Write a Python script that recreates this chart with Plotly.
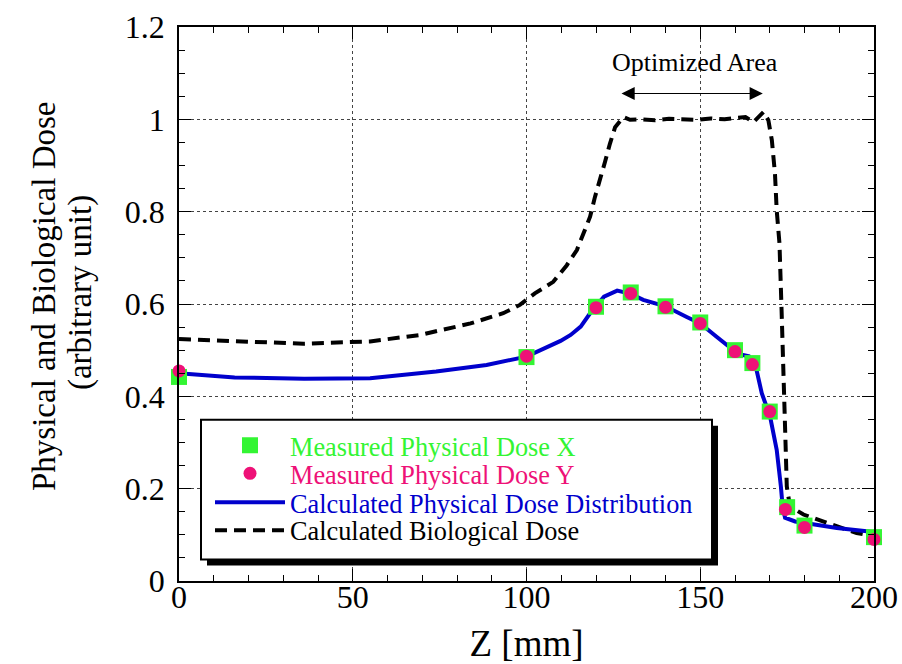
import plotly.graph_objects as go

# ---------------- data ----------------
meas_x_z = [0, 100, 120, 130, 140, 150, 160, 165, 170, 175, 180, 200]
meas_x_d = [0.442, 0.485, 0.594, 0.625, 0.595, 0.560, 0.500, 0.472, 0.367, 0.160, 0.120, 0.095]

meas_y_z = [0, 100, 120, 130, 140, 150, 160, 165, 170, 174.5, 180, 200]
meas_y_d = [0.455, 0.487, 0.592, 0.623, 0.593, 0.558, 0.497, 0.469, 0.367, 0.155, 0.116, 0.090]

phys_z = [0, 16, 36, 55, 74, 88.5, 100, 107.7, 109.8, 112.7, 115.6, 118.3, 122.3, 126.1,
          130, 133.6, 140, 146.1, 150, 154.7, 159.5, 162, 164, 166.2, 167.7, 170.1, 172,
          173.2, 173.7, 174.4, 177.3, 179.7, 189.3, 197.9, 200]
phys_d = [0.450, 0.441, 0.438, 0.439, 0.454, 0.468, 0.486, 0.511, 0.520, 0.533, 0.551, 0.580,
          0.616, 0.629, 0.622, 0.609, 0.595, 0.572, 0.558, 0.529, 0.500, 0.490, 0.487, 0.457,
          0.407, 0.356, 0.284, 0.205, 0.162, 0.137, 0.129, 0.126, 0.115, 0.108, 0.105]

bio_z = [0, 16.6, 35.8, 55, 69.4, 83.9, 93.3, 98.1, 102.4, 107.7, 111.6, 114.5, 116.3, 118.3,
         119.7, 120.7, 122.6, 124, 125.5, 127.9, 129.8, 133, 137, 141, 145, 149, 153, 157,
         160, 163, 165.3, 168.2, 169.6, 170.6, 171.5, 172, 172.8, 173.2, 173.4, 174.4, 174.9,
         175.8, 179.7, 186.4, 195, 200]
bio_d = [0.524, 0.519, 0.514, 0.519, 0.533, 0.558, 0.580, 0.598, 0.623, 0.648, 0.684, 0.717,
         0.753, 0.789, 0.832, 0.861, 0.908, 0.947, 0.983, 1.005, 0.999, 1.000, 0.998, 1.001,
         1.000, 0.999, 1.002, 1.000, 1.003, 1.005, 0.994, 1.016, 0.998, 0.955, 0.883, 0.803,
         0.731, 0.659, 0.587, 0.335, 0.205, 0.162, 0.144, 0.126, 0.104, 0.097]

legend_names = ["Measured Physical Dose X", "Measured Physical Dose Y",
                "Calculated Physical Dose Distribution", "Calculated Biological Dose"]
x_ticks = [0, 50, 100, 150, 200]
y_ticks = [0, 0.2, 0.4, 0.6, 0.8, 1, 1.2]
y_tick_text = ["0", "0.2", "0.4", "0.6", "0.8", "1", "1.2"]
y_title_lines = ["Physical and Biological Dose", "(arbitrary unit)"]

GREEN = "#33f533"
MAGENTA = "#ee1177"
BLUE = "#0000cc"
FONT = "Liberation Serif"

# ---------------- layout geometry (px) ----------------
W, H = 902, 664
L, R, T, B = 179, 28, 26.5, 82.5
PW, PH = W - L - R, H - T - B


def px2paper(px, py):
    return (px - L) / PW, (H - B - py) / PH


fig = go.Figure()

fig.add_trace(go.Scatter(
    x=bio_z, y=bio_d, mode="lines", name=legend_names[3], legend="legend4",
    line=dict(color="black", width=4, dash="12px,7px"), cliponaxis=False))
fig.add_trace(go.Scatter(
    x=phys_z, y=phys_d, mode="lines", name=legend_names[2], legend="legend3",
    line=dict(color=BLUE, width=4), cliponaxis=False))
fig.add_trace(go.Scatter(
    x=meas_x_z, y=meas_x_d, mode="markers", name=legend_names[0], legend="legend",
    marker=dict(symbol="square", size=16, color=GREEN, line=dict(width=0)),
    cliponaxis=False))
fig.add_trace(go.Scatter(
    x=meas_y_z, y=meas_y_d, mode="markers", name=legend_names[1], legend="legend2",
    marker=dict(symbol="circle", size=13, color=MAGENTA, line=dict(width=0)),
    cliponaxis=False))

# colour the legend texts like the series
colors = {legend_names[0]: GREEN, legend_names[1]: MAGENTA,
          legend_names[2]: BLUE, legend_names[3]: "black"}
for tr in fig.data:
    tr.name = f"<span style='color:{colors[tr.name]}'>{tr.name}</span>"

axis_common = dict(
    showline=True, linecolor="black", linewidth=1.5, mirror="ticks",
    ticks="inside", tickcolor="black", tickwidth=1.2, ticklen=12,
    showgrid=True, gridcolor="#444444", griddash="dot", gridwidth=1,
    zeroline=False,
    tickfont=dict(family=FONT, size=32, color="black"),
)

fig.update_xaxes(
    range=[0, 200], tickvals=x_ticks, ticktext=[str(v) for v in x_ticks],
    minor=dict(dtick=10, ticks="inside", ticklen=6, tickcolor="black", tickwidth=1.2, showgrid=False),
    title=dict(text="Z [mm]", font=dict(family=FONT, size=37, color="black"), standoff=18),
    ticklabelstandoff=-13,
    **axis_common)
fig.update_yaxes(
    range=[0, 1.2], tickvals=y_ticks, ticktext=y_tick_text,
    minor=dict(dtick=0.05, ticks="inside", ticklen=6, tickcolor="black", tickwidth=1.2, showgrid=False),
    ticklabelstandoff=6,
    **axis_common)

# y-axis title, two lines placed individually (tighter line spacing as in the reference)
for text, cx, cy in zip(y_title_lines, [44, 80], [296, 293]):
    ax_, ay_ = px2paper(cx, cy)
    fig.add_annotation(xref="paper", yref="paper", x=ax_, y=ay_, text=text,
                       textangle=-90, showarrow=False, xanchor="center", yanchor="middle",
                       font=dict(family=FONT, size=33, color="black"))

# legend box with shadow
bx0, by0 = px2paper(201, 560)
bx1, by1 = px2paper(712, 420)
sx0, sy0 = px2paper(207, 566)
sx1, sy1 = px2paper(718, 426)
fig.add_shape(type="rect", xref="paper", yref="paper", x0=sx0, y0=sy0, x1=sx1, y1=sy1,
              fillcolor="black", line=dict(width=0), layer="above")
fig.add_shape(type="rect", xref="paper", yref="paper", x0=bx0, y0=by0, x1=bx1, y1=by1,
              fillcolor="white", line=dict(color="black", width=2), layer="above")

# one legend per row so the rows can be spaced as tightly as in the reference
row_centers = [446, 474, 503, 531]
legend_keys = ["legend", "legend2", "legend3", "legend4"]
for key, cy in zip(legend_keys, row_centers):
    lx, ly = px2paper(210, cy)
    fig.update_layout({key: dict(x=lx, y=ly, xanchor="left", yanchor="middle",
                                 bgcolor="rgba(0,0,0,0)", borderwidth=0,
                                 font=dict(family=FONT, size=26.3, color="black"),
                                 itemwidth=70)})

# "Optimized Area" annotation with double arrow
fig.add_annotation(x=148.5, y=1.123, text="Optimized Area", showarrow=False,
                   font=dict(family=FONT, size=26, color="black"))
fig.add_annotation(x=168, y=1.056, ax=126.9, ay=1.056, axref="x", ayref="y",
                   text="", showarrow=True, arrowside="end+start", arrowhead=2,
                   arrowsize=2.2, arrowwidth=1.2, arrowcolor="black")

fig.update_layout(
    width=W, height=H,
    margin=dict(l=L, r=R, t=T, b=B, autoexpand=False),
    paper_bgcolor="white", plot_bgcolor="white",
    showlegend=True,
    font=dict(family=FONT, color="black"),
)

fig.write_html("out.html")
